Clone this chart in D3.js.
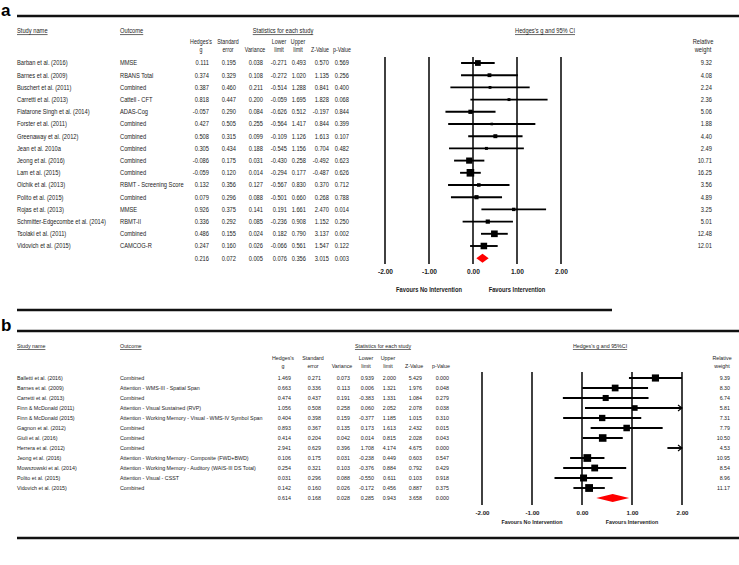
<!DOCTYPE html>
<html><head><meta charset="utf-8">
<script src="https://cdn.jsdelivr.net/npm/d3@7"></script>
<style>
body{margin:0;background:#fff}
svg{display:block}
text{font-family:"Liberation Sans",Arial,sans-serif;fill:#1c1c1c}
</style>
</head><body>
<svg id="chart" width="739" height="565"></svg>
<script>
// ---------- Panel a data ----------
const studiesA = ["Barban et al. (2016)","Barnes et al. (2009)","Buschert et al. (2011)","Carretti et al. (2013)","Fiatarone Singh et al. (2014)","Forster et al. (2011)","Greenaway et al. (2012)","Jean et al. 2010a","Jeong et al. (2016)","Lam et al. (2015)","Olchik et al. (2013)","Polito et al. (2015)","Rojas et al. (2013)","Schmitter-Edgecombe et al. (2014)","Tsolaki et al. (2011)","Vidovich et al. (2015)"];
const outcomesA = ["MMSE","RBANS Total","Combined","Cattell - CFT","ADAS-Cog","Combined","Combined","Combined","Combined","Combined","RBMT - Screening Score","Combined","MMSE","RBMT-II","Combined","CAMCOG-R"];
const gA   = [0.111,0.374,0.387,0.818,-0.057,0.427,0.508,0.305,-0.086,-0.059,0.132,0.079,0.926,0.336,0.486,0.247];
const seA  = [0.195,0.329,0.460,0.447,0.290,0.505,0.315,0.434,0.175,0.120,0.356,0.296,0.375,0.292,0.155,0.160];
const varA = [0.038,0.108,0.211,0.200,0.084,0.255,0.099,0.188,0.031,0.014,0.127,0.088,0.141,0.085,0.024,0.026];
const llA  = [-0.271,-0.272,-0.514,-0.059,-0.626,-0.564,-0.109,-0.545,-0.430,-0.294,-0.567,-0.501,0.191,-0.236,0.182,-0.066];
const ulA  = [0.493,1.020,1.288,1.695,0.512,1.417,1.126,1.156,0.258,0.177,0.830,0.660,1.661,0.908,0.790,0.561];
const zA   = [0.570,1.135,0.841,1.828,-0.197,0.844,1.613,0.704,-0.492,-0.487,0.370,0.268,2.470,1.152,3.137,1.547];
const pA   = [0.569,0.256,0.400,0.068,0.844,0.399,0.107,0.482,0.623,0.626,0.712,0.788,0.014,0.250,0.002,0.122];
const wA   = [9.32,4.08,2.24,2.36,5.06,1.88,4.40,2.49,10.71,16.25,3.56,4.89,3.25,5.01,12.48,12.01];
const summaryA = [0.216,0.072,0.005,0.076,0.356,3.015,0.003];

// ---------- Panel b data ----------
const studiesB = ["Balletti et al. (2016)","Barnes et al. (2009)","Carretti et al. (2013)","Finn & McDonald (2011)","Finn & McDonald (2015)","Gagnon et al. (2012)","Giuli et al. (2016)","Herrera et al. (2012)","Jeong et al. (2016)","Mowszowski et al. (2014)","Polito et al. (2015)","Vidovich et al. (2015)"];
const outcomesB = ["Combined","Attention - WMS-III - Spatial Span","Combined","Attention - Visual Sustained (RVP)","Attention - Working Memory - Visual - WMS-IV Symbol Span","Combined","Combined","Combined","Attention - Working Memory - Composite (FWD+BWD)","Attention - Working Memory - Auditory (WAIS-III DS Total)","Attention - Visual - CSST","Combined"];
const gB   = [1.469,0.663,0.474,1.056,0.404,0.893,0.414,2.941,0.106,0.254,0.031,0.142];
const seB  = [0.271,0.336,0.437,0.508,0.398,0.367,0.204,0.629,0.175,0.321,0.296,0.160];
const varB = [0.073,0.113,0.191,0.258,0.159,0.135,0.042,0.396,0.031,0.103,0.088,0.026];
const llB  = [0.939,0.006,-0.383,0.060,-0.377,0.173,0.014,1.708,-0.238,-0.376,-0.550,-0.172];
const ulB  = [2.000,1.321,1.331,2.052,1.185,1.613,0.815,4.174,0.449,0.884,0.611,0.456];
const zB   = [5.429,1.976,1.084,2.078,1.015,2.432,2.028,4.675,0.603,0.792,0.103,0.887];
const pB   = [0.000,0.048,0.279,0.038,0.310,0.015,0.043,0.000,0.547,0.429,0.918,0.375];
const wB   = [9.39,8.30,6.74,5.81,7.31,7.79,10.50,4.53,10.95,8.54,8.96,11.17];
const summaryB = [0.614,0.168,0.028,0.285,0.943,3.658,0.000];

// ---------- shared labels ----------
const axisTicks = [-2,-1,0,1,2];
const colHeaders = [["Hedges's","g"],["Standard","error"],["","Variance"],["Lower","limit"],["Upper","limit"],["","Z-Value"],["","p-Value"]];
const favourLabels = ["Favours No Intervention","Favours Intervention"];

const svg = d3.select("#chart");

function drawPanel(cfg, d) {
  const g = svg.append("g");
  const T = (x, y, s, o = {}) => {
    const t = g.append("text")
      .attr("transform", `translate(${x},${y}) scale(${o.sx ?? cfg.sx},1)`)
      .attr("text-anchor", o.anchor || "start")
      .attr("dy", "0.35em")
      .style("font-size", (o.size || cfg.fs) + "px")
      .style("font-weight", o.bold ? "bold" : "normal")
      .text(s);
    if (o.ul) t.style("text-decoration", "underline");
    return t;
  };
  g.append("text").attr("x", 1).attr("y", cfg.labelY).attr("dy", "0.35em")
    .style("font-size", "17px").style("font-weight", "bold").style("fill", "#000").text(cfg.label);
  g.append("line").attr("x1", 17).attr("x2", 739).attr("y1", cfg.topY).attr("y2", cfg.topY)
    .attr("stroke", "#111").attr("stroke-width", 2.6);
  T(cfg.studyX, cfg.headY, "Study name", {ul: true});
  T(cfg.outX, cfg.headY, "Outcome", {ul: true});
  T(cfg.statsX, cfg.headY, "Statistics for each study", {ul: true, anchor: "middle"});
  const x = d3.scaleLinear().domain([axisTicks[0], axisTicks[axisTicks.length - 1]]).range(cfg.forest);
  T(cfg.titleX, cfg.headY, cfg.forestTitle, {ul: true, anchor: "middle"});
  colHeaders.forEach((h, i) => {
    const cx = cfg.cols[i] - cfg.hdrOff[i];
    if (h[0]) T(cx, cfg.sub1, h[0], {anchor: "middle", sx: cfg.hsx});
    T(cx, cfg.sub2, h[1], {anchor: "middle", sx: cfg.hsx});
  });
  T(cfg.wRight - cfg.relOff, cfg.sub1, "Relative", {anchor: "middle"});
  T(cfg.wRight - cfg.relOff, cfg.sub2, "weight", {anchor: "middle"});

  const n = d.studies.length;
  const y = d3.scaleLinear().domain([0, 1]).range([cfg.row0, cfg.row0 + cfg.step]);
  const f3 = v => v.toFixed(3);
  for (let i = 0; i < n; i++) {
    const yy = y(i);
    T(cfg.studyX, yy, d.studies[i]);
    T(cfg.outX, yy, d.outcomes[i]);
    const vals = [d.g[i], d.se[i], d.v[i], d.ll[i], d.ul[i], d.z[i], d.p[i]];
    vals.forEach((v, j) => T(cfg.cols[j], yy, f3(v), {anchor: "end"}));
    T(cfg.wRight, yy, d.w[i].toFixed(2), {anchor: "end"});
  }
  const ys = y(n);
  d.summary.forEach((v, j) => T(cfg.cols[j], ys, f3(v), {anchor: "end"}));

  g.selectAll("line.v").data(axisTicks).join("line")
    .attr("x1", t => x(t)).attr("x2", t => x(t))
    .attr("y1", cfg.vTop).attr("y2", cfg.vBot)
    .attr("stroke", "#111").attr("stroke-width", 1.6);
  const ax = d3.axisBottom(x).tickValues(axisTicks).tickSize(0).tickFormat(t => t.toFixed(2));
  const axG = g.append("g").attr("transform", `translate(0,${cfg.axisY - 6})`).call(ax);
  axG.select(".domain").remove();
  axG.selectAll("text").attr("fill", "#1c1c1c").style("font-family", '"Liberation Sans",Arial,sans-serif')
    .style("font-size", cfg.fs + "px").style("font-weight", "bold");
  T(x(-1), cfg.favY, favourLabels[0], {anchor: "middle", bold: true});
  T(x(1), cfg.favY, favourLabels[1], {anchor: "middle", bold: true});
  g.append("line").attr("x1", 17).attr("x2", cfg.botX2).attr("y1", cfg.botY).attr("y2", cfg.botY)
    .attr("stroke", "#111").attr("stroke-width", 2.4);

  const [lo, hi] = x.domain();
  const sz = d3.scaleSqrt().domain([0, d3.max(d.w)]).range([0, cfg.mMax]);
  for (let i = 0; i < n; i++) {
    const yy = y(i);
    const a = Math.max(lo, d.ll[i]), b = Math.min(hi, d.ul[i]);
    g.append("line").attr("x1", x(a)).attr("x2", x(b)).attr("y1", yy).attr("y2", yy)
      .attr("stroke", "#000").attr("stroke-width", 1.9);
    if (d.ul[i] > hi + 1e-9) {
      g.append("path").attr("d", `M${x(hi) - 4},${yy - 3}L${x(hi)},${yy}L${x(hi) - 4},${yy + 3}`)
        .attr("fill", "none").attr("stroke", "#000").attr("stroke-width", 1.1);
    }
    if (d.g[i] >= lo && d.g[i] <= hi) {
      const s = sz(d.w[i]);
      g.append("rect").attr("x", x(d.g[i]) - s / 2).attr("y", yy - s / 2)
        .attr("width", s).attr("height", s).attr("fill", "#000");
    }
  }
  const dh = cfg.dH / 2;
  g.append("path")
    .attr("d", `M${x(d.summary[3])},${ys}L${x(d.summary[0])},${ys - dh}L${x(d.summary[4])},${ys}L${x(d.summary[0])},${ys + dh}Z`)
    .attr("fill", "#ff0000");
}

drawPanel({
  label: "a", labelY: 10, topY: 16, headY: 31, sub1: 42, sub2: 50,
  studyX: 17, outX: 120, statsX: 283, titleX: 545, forestTitle: "Hedges's g and 95% CI",
  cols: [209, 236, 263, 287, 306, 329, 349], hdrOff: [8, 8, 8, 8, 8, 9, 7], hsx: 0.8,
  row0: 63, step: 12.2, forest: [385, 561], vTop: 57, vBot: 264,
  axisY: 272, favY: 290, botY: 310, botX2: 612,
  wRight: 712, relOff: 9, fs: 6.6, sx: 0.87, mMax: 7.6, dH: 9
}, {studies: studiesA, outcomes: outcomesA, g: gA, se: seA, v: varA, ll: llA, ul: ulA, z: zA, p: pA, w: wA, summary: summaryA});

drawPanel({
  label: "b", labelY: 325, topY: 331, headY: 346, sub1: 358, sub2: 366,
  studyX: 17, outX: 120, statsX: 383, titleX: 600, forestTitle: "Hedges's g and 95%CI",
  cols: [291, 321, 350, 374, 396, 422, 449], hdrOff: [8, 8, 8, 8, 8, 8, 8], hsx: 0.86,
  row0: 378, step: 10, forest: [482, 682], vTop: 372, vBot: 505,
  axisY: 514, favY: 522, botY: 538, botX2: 739,
  wRight: 730, relOff: 8, fs: 6.2, sx: 0.86, mMax: 7.8, dH: 8
}, {studies: studiesB, outcomes: outcomesB, g: gB, se: seB, v: varB, ll: llB, ul: ulB, z: zB, p: pB, w: wB, summary: summaryB});
</script>
</body></html>
